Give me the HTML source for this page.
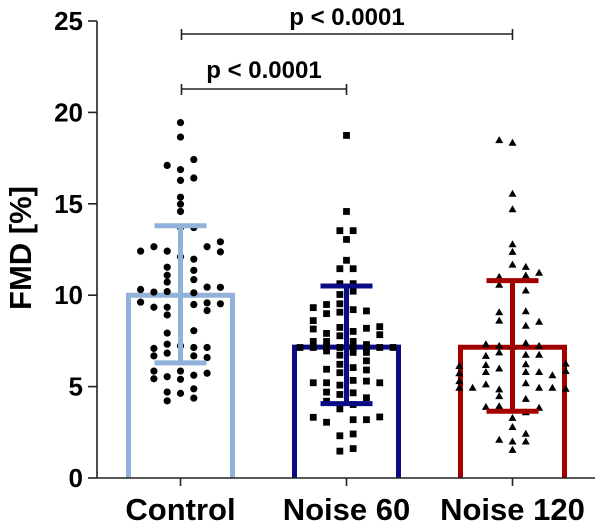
<!DOCTYPE html>
<html><head><meta charset="utf-8"><style>
body{margin:0;background:#fff}
svg text{font-family:"Liberation Sans",Arial,sans-serif;font-weight:bold;fill:#000}
</style></head><body>
<svg id="chart" width="600" height="525" viewBox="0 0 600 525" xmlns="http://www.w3.org/2000/svg"></svg>
<script>
const categories=["Control","Noise 60","Noise 120"];
const means=[10.0,7.16,7.15];
const errLow=[6.3,4.07,3.65];
const errHigh=[13.8,10.5,10.8];
const yTicks=[0,5,10,15,20,25];
const controlOffsets=[0,0,-1,0,1,1,0,0,0,0,0,1,-3,-2,-1,2,3,3,1,-1,1,-1,-1,1,0,-3,-2,-1,1,2,3,-3,-2,-1,1,2,2,3,-1,-1,1,-1,-2,-2,-1,1,1,2,2,0,-2,-2,-1,0,0,1,2,-1,-1,0,1,1];
const controlValues=[19.44,18.65,17.1,16.87,17.42,16.41,16.28,15.36,14.98,14.58,13.7,13.7,12.41,12.65,12.41,12.65,12.92,12.37,11.97,11.53,11.36,11.09,10.72,10.85,12.1,10.31,10.17,10.2,10.13,10.44,10.43,9.62,9.34,9.34,9.49,9.58,9.16,9.53,8.92,7.93,8.06,7.32,7.09,6.68,6.83,7.14,6.68,7.14,6.59,7.23,5.85,5.43,5.54,5.85,5.40,5.62,5.73,4.70,4.22,4.63,4.88,4.37];
const noise60Offsets=[0,0,-0.5,0.5,0,0,-0.5,0.5,-0.5,0.5,0.5,-0.5,-2.5,-1.5,-0.5,0.5,1.5,-1.5,-0.5,-2.5,-2.5,-1.5,-0.5,-0.5,0.5,1.5,2.5,2.5,-3.5,-2.5,-1.5,-0.5,0.5,1.5,2.5,3.5,-2.5,-1.5,0.5,1.5,-1.5,-0.5,0.5,1.5,-0.5,1.5,0.5,-1.5,1.5,-0.5,-2.5,-1.5,-0.5,0.5,1.5,2.5,-1.5,-0.5,0.5,1.5,-1.5,-0.5,0.5,-2.5,-1.5,0.5,1.5,2.5,-0.5,0.5,-0.5,0.5];
const noise60Values=[18.74,14.58,13.53,13.53,13.05,11.91,11.45,11.45,10.63,10.63,10.22,10.04,9.32,9.49,9.53,9.21,9.14,8.99,9.07,8.61,8.15,7.91,8.24,7.78,8.02,8.19,8.28,7.84,7.14,7.14,7.14,7.14,7.14,7.14,7.14,7.14,7.47,7.47,7.47,7.3,6.95,6.72,6.87,6.87,6.22,6.41,6.04,5.95,5.91,5.76,5.21,5.21,5.08,5.34,5.30,5.21,4.70,4.57,4.66,4.39,4.20,3.78,4.02,3.32,3.05,3.19,3.19,3.34,2.31,2.41,1.47,1.61];
const noise120Offsets=[-1,0,0,0,0,0,0,1,2,1,-1,-1,1,-1,-1,1,1,2,-2,-1,1,2,-2,-1,1,2,0,-4,-2,-1,1,4,4,-4,-2,1,2,3,-4,-4,-3,-2,1,2,3,4,-1,-1,1,-2,-1,2,1,0,0,-1,0,1,1,0];
const noise120Values=[18.48,18.34,15.55,14.70,12.79,12.37,11.67,11.55,11.23,11.08,11.0,10.57,10.26,9.07,8.61,9.12,8.33,8.55,7.32,7.23,7.38,7.23,6.68,6.87,6.74,6.74,7.2,6.13,6.18,5.99,6.22,6.26,5.85,5.73,5.80,5.80,5.80,5.62,5.30,4.94,4.94,5.12,5.18,4.94,4.94,4.88,4.85,4.48,4.33,3.89,3.93,3.84,3.60,3.29,2.79,2.09,2.0,2.42,2.0,1.54];

const NS="http://www.w3.org/2000/svg";
const svg=document.getElementById('chart');
const Y0=478,Y25=21;
function yS(v){return Y0-(Y0-Y25)*v/25;}
const centers=[180.5,346.5,512.5];
function xS(i){return centers[i];}
const barHalf=52, capHalf=26, colStep=13.3;
const colors=["#8fb1da","#0b0b86","#a30000"];
function el(tag,attrs,parent){const e=document.createElementNS(NS,tag);for(const k in attrs)e.setAttribute(k,attrs[k]);(parent||svg).appendChild(e);return e;}

// bars
categories.forEach((c,i)=>{
  const g=el('g',{});
  
  
  el('path',{d:`M${xS(i)-barHalf},${Y0} V${yS(means[i])} H${xS(i)+barHalf} V${Y0}`,fill:'none',stroke:colors[i],'stroke-width':5},g);
});
// points
const series=[[controlOffsets,controlValues,'circle'],[noise60Offsets,noise60Values,'square'],[noise120Offsets,noise120Values,'triangle']];
series.forEach((s,i)=>{
  const g=el('g',{fill:'#000'});
  
  
  s[1].forEach((v,j)=>{
    const x=xS(i)+s[0][j]*colStep,y=yS(v);
    let m;
    if(s[2]==='circle')m=el('circle',{cx:x,cy:y,r:3.6},g);
    else if(s[2]==='square')m=el('rect',{x:x-3.4,y:y-3.4,width:6.8,height:6.8},g);
    else m=el('polygon',{points:`${x},${y-4} ${x-4},${y+3} ${x+4},${y+3}`},g);
    
    
  });
});
// error bars
categories.forEach((c,i)=>{
  const g=el('g',{stroke:colors[i],'stroke-width':5,fill:'none'});
  
  
  const x=xS(i);
  el('line',{x1:x,x2:x,y1:yS(errLow[i]),y2:yS(errHigh[i])},g);
  el('line',{x1:x-capHalf,x2:x+capHalf,y1:yS(errLow[i]),y2:yS(errLow[i])},g);
  el('line',{x1:x-capHalf,x2:x+capHalf,y1:yS(errHigh[i]),y2:yS(errHigh[i])},g);
});
// axes
const ax=el('g',{stroke:'#222','stroke-width':1.6});


el('line',{x1:97,x2:97,y1:Y25,y2:Y0},ax);
el('line',{x1:97,x2:595,y1:Y0,y2:Y0},ax);
yTicks.forEach(t=>{
  el('line',{x1:88,x2:97,y1:yS(t),y2:yS(t)},ax);
  const tx=el('text',{x:83,y:yS(t)+9,'text-anchor':'end','font-size':26});
  tx.textContent=t;
  
  
});
categories.forEach((c,i)=>{
  el('line',{x1:xS(i),x2:xS(i),y1:Y0,y2:Y0+8},ax);
  const tx=el('text',{x:xS(i),y:520,'text-anchor':'middle','font-size':31});
  tx.textContent=c;
  
  
});
const yt=el('text',{x:0,y:0,'text-anchor':'middle','font-size':31,transform:'translate(31,248) rotate(-90)'});
yt.textContent='FMD [%]';


// significance brackets
function bracket(x1,x2,y,ty,name){
  const g=el('g',{});
  
  
  el('path',{d:`M${x1},${y-5} V${y+6} M${x1},${y} H${x2} M${x2},${y-5} V${y+6}`,stroke:'#222','stroke-width':1.6,fill:'none'},g);
  const t=el('text',{x:(x1+x2)/2,y:ty,'text-anchor':'middle','font-size':24},g);
  t.textContent='p < 0.0001';
}
bracket(xS(0)+1,xS(2),34,25,'significance-control-noise120');
bracket(xS(0)+1,xS(1),89,78,'significance-control-noise60');
</script>
</body></html>
